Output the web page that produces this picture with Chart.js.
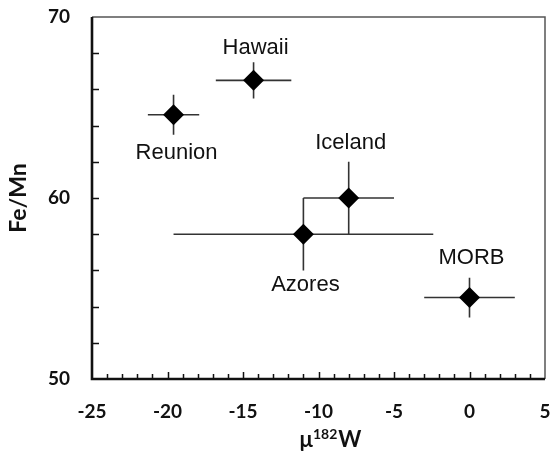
<!DOCTYPE html>
<html>
<head>
<meta charset="utf-8">
<script src="https://cdn.jsdelivr.net/npm/chart.js@4"></script>
<style>
  html, body { margin: 0; padding: 0; background: #fff; }
  #wrap { width: 550px; height: 453px; }
</style>
</head>
<body>
<div id="wrap"><canvas id="chart" width="550" height="453"></canvas></div>
<script>
// data
const sites = ["Reunion", "Hawaii", "Iceland", "Azores", "MORB"];
const mu182W = [-19.6, -14.3, -8, -11, 0];
const mu182WErr = [1.7, 2.5, 3, 8.6, 3];
const feMn = [64.6, 66.5, 60, 58, 54.5];
const feMnErr = [1.1, 1.0, 2, 2, 1.1];

const xTicks = [-25, -20, -15, -10, -5, 0, 5];
const yTicks = [50, 60, 70];

// where each site name sits relative to its point (px)
const labelOffset = {
  Reunion: [3, 38],
  Hawaii: [2, -32],
  Iceland: [2, -55],
  Azores: [2, 51],
  MORB: [2, -40]
};

const points = sites.map((s, i) => ({ x: mu182W[i], y: feMn[i] }));

const decor = {
  id: "decor",
  beforeDatasetsDraw(chart) {
    const ctx = chart.ctx;
    const xs = chart.scales.x, ys = chart.scales.y;
    ctx.save();
    ctx.strokeStyle = "#333";
    ctx.lineWidth = 1.6;
    sites.forEach((s, i) => {
      const px = xs.getPixelForValue(mu182W[i]);
      const py = ys.getPixelForValue(feMn[i]);
      ctx.beginPath();
      ctx.moveTo(xs.getPixelForValue(mu182W[i] - mu182WErr[i]), py);
      ctx.lineTo(xs.getPixelForValue(mu182W[i] + mu182WErr[i]), py);
      ctx.moveTo(px, ys.getPixelForValue(feMn[i] - feMnErr[i]));
      ctx.lineTo(px, ys.getPixelForValue(feMn[i] + feMnErr[i]));
      ctx.stroke();
    });
    ctx.restore();
  },
  afterDraw(chart) {
    const ctx = chart.ctx;
    const a = chart.chartArea;
    const xs = chart.scales.x, ys = chart.scales.y;
    ctx.save();

    // thin top/right frame
    ctx.strokeStyle = "#555";
    ctx.lineWidth = 1.5;
    ctx.beginPath();
    ctx.moveTo(a.left, a.top);
    ctx.lineTo(a.right, a.top);
    ctx.lineTo(a.right, a.bottom);
    ctx.stroke();

    // inward ticks
    ctx.strokeStyle = "#111";
    ctx.lineWidth = 1.5;
    ctx.beginPath();
    for (let v = xs.min + 1; v < xs.max; v++) {
      const px = Math.round(xs.getPixelForValue(v)) + 0.5;
      const len = v % 5 === 0 ? 7 : 5;
      ctx.moveTo(px, a.bottom);
      ctx.lineTo(px, a.bottom - len);
    }
    for (let v = ys.min + 2; v < ys.max; v += 2) {
      const py = Math.round(ys.getPixelForValue(v)) + 0.5;
      ctx.moveTo(a.left, py);
      ctx.lineTo(a.left + 7, py);
    }
    ctx.stroke();

    // thick left/bottom axes
    ctx.strokeStyle = "#111";
    ctx.lineWidth = 2.6;
    ctx.beginPath();
    ctx.moveTo(a.left, a.top);
    ctx.lineTo(a.left, a.bottom);
    ctx.lineTo(a.right, a.bottom);
    ctx.stroke();

    // site names
    ctx.fillStyle = "#111";
    ctx.font = "22px 'Liberation Sans', Arial, sans-serif";
    ctx.textAlign = "center";
    ctx.textBaseline = "middle";
    sites.forEach((s, i) => {
      const o = labelOffset[s];
      ctx.fillText(s, xs.getPixelForValue(mu182W[i]) + o[0], ys.getPixelForValue(feMn[i]) + o[1]);
    });

    // x axis title with superscript
    const cx = (a.left + a.right) / 2 + 12;
    const by = 447;
    ctx.textAlign = "left";
    ctx.textBaseline = "alphabetic";
    const big = "bold 22px Lato, 'Liberation Sans', sans-serif";
    const small = "bold 14px Lato, 'Liberation Sans', sans-serif";
    ctx.font = big;
    const w1 = ctx.measureText("μ").width, w3 = ctx.measureText("W").width;
    ctx.font = small;
    const w2 = ctx.measureText("182").width;
    let x0 = cx - (w1 + w2 + w3 + 1) / 2;
    ctx.font = big;
    ctx.fillText("μ", x0, by);
    ctx.font = small;
    ctx.fillText("182", x0 + w1, by - 8);
    ctx.font = big;
    ctx.fillText("W", x0 + w1 + w2 + 1, by);

    ctx.restore();
  }
};

function noPad(s) {
  s.paddingLeft = 0;
  s.paddingRight = 0;
  s.paddingTop = 0;
  s.paddingBottom = 0;
}

new Chart(document.getElementById("chart"), {
  type: "scatter",
  data: {
    datasets: [{
      data: points,
      pointStyle: "rectRot",
      pointRadius: 10.5,
      pointHoverRadius: 10.5,
      backgroundColor: "#000",
      borderColor: "#000",
      borderWidth: 0
    }]
  },
  options: {
    responsive: false,
    animation: false,
    events: [],
    layout: { autoPadding: false, padding: { left: 0, right: 5, top: 17, bottom: 0 } },
    plugins: { legend: { display: false }, tooltip: { enabled: false } },
    scales: {
      x: {
        type: "linear",
        min: -25,
        max: 5,
        afterFit(s) { s.height = 74; noPad(s); },
        afterBuildTicks(s) { s.ticks = xTicks.map(v => ({ value: v })); },
        grid: { display: false, drawTicks: false },
        border: { display: false },
        ticks: {
          padding: 21,
          maxRotation: 0,
          color: "#111",
          font: { family: "Lato, 'Liberation Sans', sans-serif", size: 19, weight: "bold" },
          callback: v => String(v)
        }
      },
      y: {
        type: "linear",
        min: 50,
        max: 70,
        afterFit(s) { s.width = 92; noPad(s); },
        afterBuildTicks(s) { s.ticks = yTicks.map(v => ({ value: v })); },
        grid: { display: false, drawTicks: false },
        border: { display: false },
        ticks: {
          padding: 22,
          color: "#111",
          font: { family: "Lato, 'Liberation Sans', sans-serif", size: 19, weight: "bold" }
        },
        title: {
          display: true,
          text: "Fe/Mn",
          color: "#111",
          padding: { top: 5, bottom: 0 },
          font: { family: "Lato, 'Liberation Sans', sans-serif", size: 23, weight: "bold" }
        }
      }
    }
  },
  plugins: [decor]
});
</script>
</body>
</html>
